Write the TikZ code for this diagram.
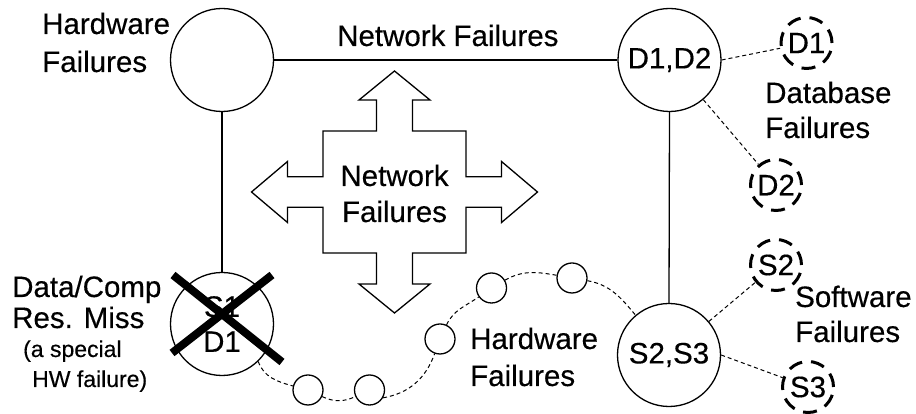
\documentclass[tikz,border=0pt]{standalone}
\usepackage{fontspec}
\setmainfont{Liberation Sans}[FakeBold=0.35]
\newcommand{\bigfnt}{\fontsize{29.5}{35}\selectfont}
\newcommand{\smallfnt}{\fontsize{23}{28}\selectfont}
\begin{document}
\begin{tikzpicture}[x=1pt,y=1pt,
  bigc/.style={circle,draw,line width=1.3pt,minimum size=103pt,inner sep=0pt,font=\bigfnt,align=center},
  dashc/.style={circle,draw,line width=3pt,dash pattern=on 14pt off 9pt,minimum size=51pt,inner sep=0pt,font=\bigfnt},
  smallc/.style={circle,draw,line width=1.3pt,minimum size=30pt,inner sep=0pt},
  lbl/.style={anchor=base west,inner sep=0pt,font=\bigfnt},
  slbl/.style={anchor=base west,inner sep=0pt,font=\smallfnt},
  conn/.style={line width=1.3pt},
  dconn/.style={line width=1pt,dash pattern=on 4pt off 3pt},
  xline/.style={line width=8pt}]
\useasboundingbox (0,0) rectangle (916,414);

% main circles
\node[bigc] (hw) at (222,354) {};
\node[bigc] (dd) at (669.5,354) {D1,D2};
\node[bigc] (ss) at (669,59) {S2,S3};
\node[bigc] (sd) at (222,90) {S1\\D1};

% dashed circles
\node[dashc] (d1) at (806.5,371) {D1};
\node[dashc] (d2) at (776,229) {D2};
\node[dashc] (s2) at (776,149) {S2};
\node[dashc] (s3) at (808,27) {S3};

% small hardware circles
\node[smallc] (h1) at (308,24) {};
\node[smallc] (h2) at (369.5,24) {};
\node[smallc] (h3) at (440,75) {};
\node[smallc] (h4) at (491.5,126) {};
\node[smallc] (h5) at (572,136) {};

% solid connectors
\draw[conn] (hw.east) -- (dd.west);
\draw[conn] (hw.south) -- (sd.north);
\draw[conn] (dd.south) -- (ss.north);

% dashed connectors
\draw[dconn] (dd.east) -- (d1);
\draw[dconn] (dd) -- (d2);
\draw[dconn] (ss) -- (s2);
\draw[dconn] (ss.east) -- (s3);

% hardware chain
\draw[dconn] (sd.-46) to[out=-70,in=165] (h1);
\draw[dconn] (h1) to[out=-25,in=-155] (h2);
\draw[dconn] (h2.-30) to[out=10,in=-110] (h3);
\draw[dconn] (h3) to[out=65,in=-145] (h4);
\draw[dconn] (h4) to[out=30,in=170] (h5);
\draw[dconn] (h5) to[out=-10,in=130] (ss);

% cross arrow
\begin{scope}[shift={(394.5,222)}]
\draw[line width=1.3pt,line join=miter] (0,121) -- (35.5,92) -- (18,92) -- (18,61) -- (71.5,61) -- (71.5,15.3) -- (107,15.3) -- (107,30.5) -- (143,0) -- (107,-30.5) -- (107,-15.3) -- (71.5,-15.3) -- (71.5,-61) -- (18,-61) -- (18,-92) -- (35.5,-92) -- (0,-121) -- (-35.5,-92) -- (-18,-92) -- (-18,-61) -- (-71.5,-61) -- (-71.5,-15.3) -- (-107,-15.3) -- (-107,-30.5) -- (-143,0) -- (-107,30.5) -- (-107,15.3) -- (-71.5,15.3) -- (-71.5,61) -- (-18,61) -- (-18,92) -- (-35.5,92) -- cycle;
\end{scope}
\node[anchor=base,inner sep=0pt,font=\bigfnt] (nf1) at (394.5,228) {Network};
\node[anchor=base,inner sep=0pt,font=\bigfnt] (nf2) at (394.5,192) {Failures};

% cross-out X
\coordinate (xa) at (173,139);
\coordinate (xb) at (282,52);
\coordinate (xc) at (272,139);
\coordinate (xd) at (172,61);
\draw[xline] (xa) -- (xb);
\draw[xline] (xc) -- (xd);

% labels
\node[lbl] (hwl1) at (42,380) {Hardware};
\node[lbl] (hwl2) at (42,342) {Failures};
\node[lbl] (nft) at (337,368) {Network Failures};
\node[lbl] (dbl1) at (765,311) {Database};
\node[lbl] (dbl2) at (765,276) {Failures};
\node[lbl] (swl1) at (795,107) {Software};
\node[lbl] (swl2) at (795,72) {Failures};
\node[lbl] (hbl1) at (470,65) {Hardware};
\node[lbl] (hbl2) at (470,28) {Failures};
\node[lbl] (dc1) at (12,117) {Data/Comp};
\node[lbl] (dc2) at (12,86) {Res. Miss};
\node[slbl] (dc3) at (23,57) {(a special};
\node[slbl] (dc4) at (32,27) {HW failure)};
\end{tikzpicture}
\end{document}
